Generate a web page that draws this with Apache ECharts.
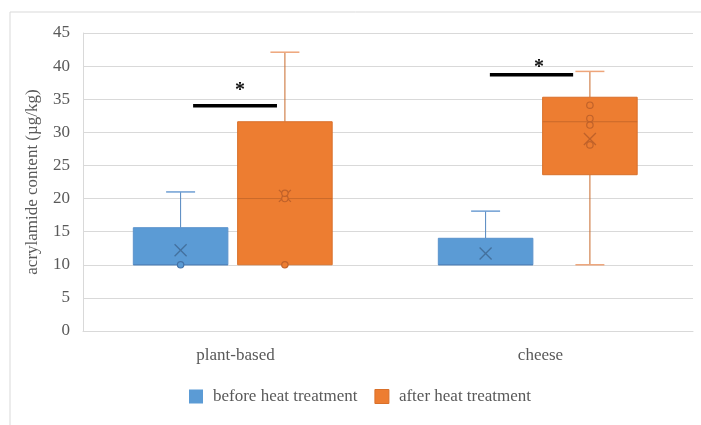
<!DOCTYPE html>
<html>
<head>
<meta charset="utf-8">
<script src="https://cdn.jsdelivr.net/npm/echarts@6/dist/echarts.min.js"></script>
<style>html,body{margin:0;padding:0;background:#fff;}#c{width:701px;height:425px;}</style>
</head>
<body>
<div id="c"></div>
<script>
// ---- data ----
const categories = ['plant-based', 'cheese'];
const seriesNames = ['before heat treatment', 'after heat treatment'];
// [min, Q1, median, Q3, max]
const beforeBox = [[10, 10, 10, 15.6, 21], [10, 10, 10, 14, 18.1]];
const afterBox = [[10, 10, 20, 31.6, 42.1], [10, 23.6, 31.6, 35.3, 39.2]];
const beforeMean = [12.2, 11.7];
const afterMean = [20.4, 29.0];
const beforePoints = [[10], []];
const afterPoints = [[10, 20, 20.8], [28.1, 31.1, 32.1, 34.1]];
const sigLevel = [34, 38.7];
const sigMark = ['*', '*'];
const yTicks = [0, 5, 10, 15, 20, 25, 30, 35, 40, 45];

// ---- styling / layout constants ----
const FONT = 'Liberation Serif';
const styles = [
  {offset: -0.180, fill: '#5b9bd5', border: '#5a92cc', whisker: '#5286bf', cap: '#6f9fd3', median: '#4a7fb8', mean: '#44719e', pt: '#4472a6'},
  {offset: 0.162, fill: '#ed7d31', border: '#d9702a', whisker: '#c8692b', cap: '#eea57a', median: '#c9692b', mean: '#c0622a', pt: '#c0622a'}
];
const BOXW = 0.31, CAPW = 0.095;
const sigSpan = [[-0.139, 0.136], [-0.166, 0.107]];
const sigStarDx = [0.015, -0.005];
const sigStarDy = [-15, -7];

function boxData(box, mean) {
  return box.map((b, i) => [i, b[0], b[1], b[2], b[3], b[4], mean[i]]);
}
function pointData(pts) {
  const out = [];
  pts.forEach((arr, i) => arr.forEach(v => out.push([i, v])));
  return out;
}

function boxRenderer(s) {
  return function (params, api) {
    const ci = api.value(0);
    const band = api.size([1, 0])[0];
    const cx = api.coord([ci, 0])[0] + s.offset * band;
    const w = BOXW * band, cw = CAPW * band;
    const Y = k => api.coord([ci, api.value(k)])[1];
    const yMin = Y(1), yQ1 = Y(2), yMed = Y(3), yQ3 = Y(4), yMax = Y(5), yMean = Y(6);
    const ch = [];
    if (yMax < yQ3 - 0.5) {
      ch.push({type: 'line', shape: {x1: cx, y1: yQ3, x2: cx, y2: yMax}, style: {stroke: s.whisker, lineWidth: 1}});
      ch.push({type: 'line', shape: {x1: cx - cw / 2, y1: yMax, x2: cx + cw / 2, y2: yMax}, style: {stroke: s.cap, lineWidth: 1.5}});
    }
    if (yMin > yQ1 + 0.5) {
      ch.push({type: 'line', shape: {x1: cx, y1: yQ1, x2: cx, y2: yMin}, style: {stroke: s.whisker, lineWidth: 1}});
      ch.push({type: 'line', shape: {x1: cx - cw / 2, y1: yMin, x2: cx + cw / 2, y2: yMin}, style: {stroke: s.cap, lineWidth: 1.5}});
    }
    ch.push({type: 'rect', shape: {x: cx - w / 2, y: yQ3, width: w, height: yQ1 - yQ3}, style: {fill: s.fill, stroke: s.border, lineWidth: 1}});
    ch.push({type: 'line', shape: {x1: cx - w / 2, y1: yMed, x2: cx + w / 2, y2: yMed}, style: {stroke: s.median, lineWidth: 1}});
    const m = 6;
    ch.push({type: 'line', shape: {x1: cx - m, y1: yMean - m, x2: cx + m, y2: yMean + m}, style: {stroke: s.mean, lineWidth: 1.3}});
    ch.push({type: 'line', shape: {x1: cx - m, y1: yMean + m, x2: cx + m, y2: yMean - m}, style: {stroke: s.mean, lineWidth: 1.3}});
    return {type: 'group', children: ch};
  };
}
function pointRenderer(s) {
  return function (params, api) {
    const ci = api.value(0);
    const band = api.size([1, 0])[0];
    const p = api.coord([ci, api.value(1)]);
    return {type: 'circle', shape: {cx: p[0] + s.offset * band, cy: p[1], r: 3.2}, style: {fill: s.fill, stroke: s.pt, lineWidth: 1.2}};
  };
}
function sigRenderer(params, api) {
  const ci = api.value(0);
  const band = api.size([1, 0])[0];
  const p = api.coord([ci, api.value(1)]);
  const sp = sigSpan[ci];
  return {type: 'group', children: [
    {type: 'line', shape: {x1: p[0] + sp[0] * band, y1: p[1], x2: p[0] + sp[1] * band, y2: p[1]}, style: {stroke: '#000', lineWidth: 3.5}},
    {type: 'text', x: p[0] + sigStarDx[ci] * band, y: p[1] + sigStarDy[ci], style: {text: sigMark[ci], fill: '#111', font: 'bold 20px ' + FONT, align: 'center', verticalAlign: 'middle'}}
  ]};
}

const chart = echarts.init(document.getElementById('c'), null, {renderer: 'canvas'});
chart.setOption({
  animation: false,
  backgroundColor: '#fff',
  textStyle: {fontFamily: FONT},
  graphic: [
    {type: 'line', shape: {x1: 10, y1: 12, x2: 701, y2: 12}, style: {stroke: '#d9d9d9', lineWidth: 1}},
    {type: 'line', shape: {x1: 10, y1: 12, x2: 10, y2: 425}, style: {stroke: '#d9d9d9', lineWidth: 1}}
  ],
  grid: {left: 83, right: 8, top: 33, bottom: 94, containLabel: false},
  legend: {
    left: 184, top: 383, itemWidth: 14, itemHeight: 14, itemGap: 17,
    textStyle: {fontFamily: FONT, fontSize: 17, color: '#595959', padding: [0, 0, 0, 5]},
    data: [
      {name: seriesNames[0], icon: 'rect', itemStyle: {color: styles[0].fill}},
      {name: seriesNames[1], icon: 'rect', itemStyle: {color: styles[1].fill, borderColor: styles[1].border, borderWidth: 1}}
    ]
  },
  xAxis: {
    type: 'category', data: categories,
    axisTick: {show: false},
    axisLine: {show: true, lineStyle: {color: '#d9d9d9'}},
    axisLabel: {fontFamily: FONT, fontSize: 17, color: '#595959', margin: 16}
  },
  yAxis: {
    type: 'value', min: yTicks[0], max: yTicks[yTicks.length - 1], interval: 5,
    name: 'acrylamide content (µg/kg)', nameLocation: 'middle', nameGap: 42,
    nameTextStyle: {fontFamily: FONT, fontSize: 17, color: '#595959'},
    axisLine: {show: true, lineStyle: {color: '#d9d9d9'}},
    axisTick: {show: false},
    axisLabel: {fontFamily: FONT, fontSize: 17, color: '#595959', margin: 13},
    splitLine: {lineStyle: {color: '#d9d9d9'}}
  },
  series: [
    {name: seriesNames[0], type: 'custom', renderItem: boxRenderer(styles[0]), data: boxData(beforeBox, beforeMean), itemStyle: {color: styles[0].fill}, z: 2},
    {name: seriesNames[1], type: 'custom', renderItem: boxRenderer(styles[1]), data: boxData(afterBox, afterMean), itemStyle: {color: styles[1].fill}, z: 2},
    {name: seriesNames[0], type: 'custom', renderItem: pointRenderer(styles[0]), data: pointData(beforePoints), z: 3},
    {name: seriesNames[1], type: 'custom', renderItem: pointRenderer(styles[1]), data: pointData(afterPoints), z: 3},
    {name: 'sig', type: 'custom', renderItem: sigRenderer, data: sigLevel.map((v, i) => [i, v]), z: 4}
  ]
});
</script>
</body>
</html>
